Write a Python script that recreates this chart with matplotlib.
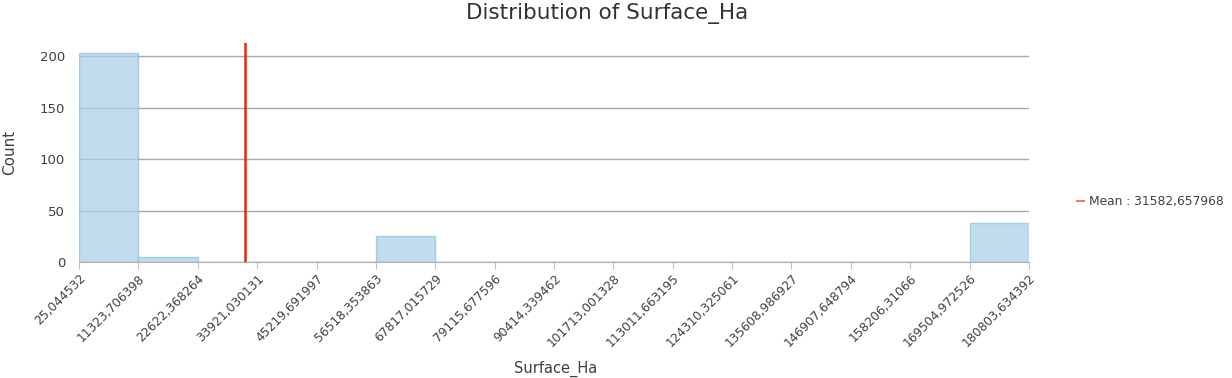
import matplotlib
matplotlib.use("Agg")
import matplotlib.pyplot as plt
from matplotlib.lines import Line2D

bin_edges = [25.044532, 11323.706398, 22622.368264, 33921.030131, 45219.691997,
             56518.353863, 67817.015729, 79115.677596, 90414.339462, 101713.001328,
             113011.663195, 124310.325061, 135608.986927, 146907.648794, 158206.31066,
             169504.972526, 180803.634392]
tick_labels = ["25,044532", "11323,706398", "22622,368264", "33921,030131", "45219,691997",
               "56518,353863", "67817,015729", "79115,677596", "90414,339462", "101713,001328",
               "113011,663195", "124310,325061", "135608,986927", "146907,648794", "158206,31066",
               "169504,972526", "180803,634392"]
counts = [203, 5, 0, 0, 0, 25, 0, 0, 0, 0, 0, 0, 0, 0, 0, 38]
mean_value = 31582.657968
mean_label = "Mean : 31582,657968"

plt.rcParams['font.family'] = ['DejaVu Sans']
text_color = "#404040"

fig = plt.figure(figsize=(12.32, 3.78), dpi=100)
ax = fig.add_axes([79/1232, 1-262/378, 950/1232, 219/378])

lefts = bin_edges[:-1]
widths = [bin_edges[i+1]-bin_edges[i] for i in range(len(counts))]
ax.bar(lefts, counts, width=widths, align='edge', color="#a9cfe3", alpha=0.72,
       edgecolor="#8fc0da", linewidth=1, zorder=2)
ax.axvline(mean_value, color="#e8270c", linewidth=1.8, zorder=3)

ax.set_xlim(bin_edges[0], bin_edges[-1])
ax.set_ylim(0, 213)
ax.set_yticks([0, 50, 100, 150, 200])
ax.yaxis.grid(True, color="#a8a8a8", linewidth=1, zorder=0)
ax.set_axisbelow(True)
ax.set_xticks(bin_edges)
ax.set_xticklabels(tick_labels, rotation=45, ha='right', rotation_mode='anchor',
                   fontsize=8.8, color=text_color)
ax.tick_params(axis='x', length=5, color="#c0c0c0", pad=2)
ax.tick_params(axis='y', length=0, labelsize=9.5, colors=text_color, pad=10)
for s in ['top', 'right', 'left']:
    ax.spines[s].set_visible(False)
ax.spines['bottom'].set_color("#b0b0b0")

ax.set_ylabel("Count", fontsize=11, color=text_color, labelpad=16)
fig.text(556/1232, 1-369/378, "Surface_Ha", fontsize=10.5, color=text_color,
         ha='center', va='center')
fig.text(607/1232, 1-14/378, "Distribution of Surface_Ha", fontsize=15.5,
         color="#333333", ha='center', va='center')

handle = Line2D([0], [0], color="#ec7c66", linewidth=1.5)
leg = fig.legend([handle], [mean_label], loc='center left',
                 bbox_to_anchor=(1066/1232, 1-202/378), frameon=False,
                 handlelength=0.6, handletextpad=0.4, fontsize=8.8)
for t in leg.get_texts():
    t.set_color(text_color)

fig.savefig("out.png", dpi=100)
